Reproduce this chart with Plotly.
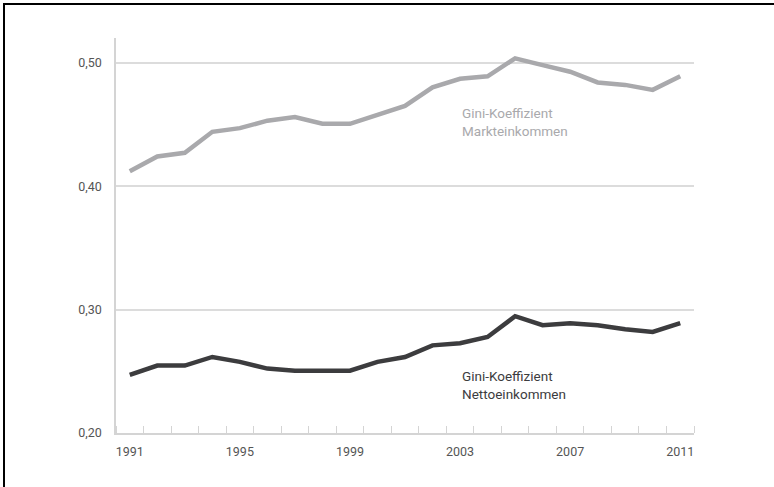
import plotly.graph_objects as go

years = list(range(1991, 2012))
markt = [0.412, 0.424, 0.427, 0.444, 0.447, 0.453, 0.456, 0.4505, 0.4505, 0.458,
         0.465, 0.480, 0.487, 0.489, 0.5035, 0.498, 0.4927, 0.484, 0.482, 0.478, 0.489]
netto = [0.247, 0.2546, 0.2546, 0.2616, 0.2576, 0.2522, 0.2505, 0.2505, 0.2505, 0.2576,
         0.2616, 0.271, 0.2727, 0.2778, 0.2946, 0.2873, 0.289, 0.2873, 0.284, 0.2819, 0.289]
y_ticks = [0.20, 0.30, 0.40, 0.50]
y_labels = ["0,20", "0,30", "0,40", "0,50"]
x_ticks = [1991, 1995, 1999, 2003, 2007, 2011]

FONT = "Roboto"
W, H = 774, 487
ML, MR, MT, MB = 116, 80, 38, 54
PW, PH = W - ML - MR, H - MT - MB

fig = go.Figure()
fig.add_trace(go.Scatter(x=years, y=markt, mode="lines",
                         line=dict(color="#a9a9ac", width=4.5), hoverinfo="skip"))
fig.add_trace(go.Scatter(x=years, y=netto, mode="lines",
                         line=dict(color="#3c3c3e", width=4.5), hoverinfo="skip"))

fig.add_annotation(x=2003.0, y=0.452, xref="x", yref="y", xanchor="left", yanchor="middle",
                   text="Gini-Koeffizient<br>Markteinkommen", showarrow=False, align="left",
                   font=dict(family=FONT, size=13.5, color="#a9a9ac"))
fig.add_annotation(x=2003.0, y=0.2385, xref="x", yref="y", xanchor="left", yanchor="middle",
                   text="Gini-Koeffizient<br>Nettoeinkommen", showarrow=False, align="left",
                   font=dict(family=FONT, size=13.5, color="#3c3c3e"))

def px2x(p):
    return (p - ML) / PW

def py2y(p):
    return (H - MB - p) / PH

fig.add_shape(type="rect", xref="paper", yref="paper",
              x0=px2x(4), x1=px2x(W + 20), y0=py2y(H + 20), y1=py2y(4),
              line=dict(color="black", width=2), fillcolor="rgba(0,0,0,0)", layer="above")

fig.update_layout(
    width=W, height=H,
    margin=dict(l=ML, r=MR, t=MT, b=MB),
    paper_bgcolor="white", plot_bgcolor="white",
    showlegend=False,
    font=dict(family=FONT, size=12.5, color="#555555"),
)
fig.update_xaxes(range=[1990.5, 2011.5], tickvals=x_ticks, ticks="", showgrid=False,
                 showline=True, linecolor="#d4d4d4", linewidth=1.5, zeroline=False,
                 tickfont=dict(family=FONT, size=12.5, color="#555555"), ticklabelstandoff=6,
                 minor=dict(tick0=1990.5, dtick=1, ticks="inside", ticklen=7,
                            tickcolor="#d4d4d4", tickwidth=1.2, showgrid=False))
fig.update_yaxes(range=[0.20, 0.52], tickvals=y_ticks, ticktext=y_labels, ticks="",
                 showgrid=True, gridcolor="#dcdcdc", gridwidth=1.5,
                 showline=True, linecolor="#d4d4d4", linewidth=1.5, zeroline=False,
                 tickfont=dict(family=FONT, size=12.5, color="#555555"), ticklabelstandoff=10)

fig.write_html("out.html", config={"displayModeBar": False},
               post_script="document.body.style.margin='0';document.body.style.overflow='hidden';")
